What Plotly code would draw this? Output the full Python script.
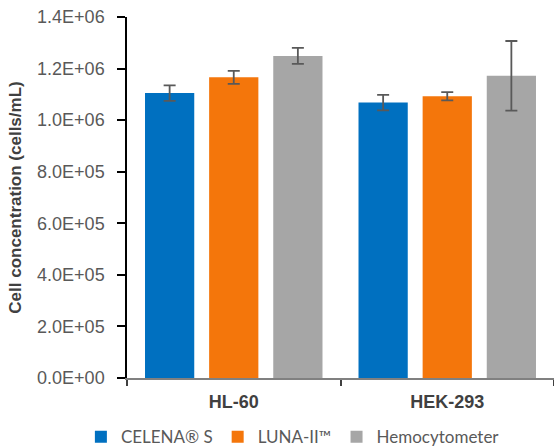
import plotly.graph_objects as go

categories = ["HL-60", "HEK-293"]
series_names = ["CELENA® S", "LUNA-II™", "Hemocytometer"]
celena = [1.105e6, 1.068e6]
celena_err = [3.0e4, 3.0e4]
luna = [1.166e6, 1.093e6]
luna_err = [2.5e4, 1.6e4]
hemo = [1.249e6, 1.172e6]
hemo_err = [3.1e4, 1.35e5]
colors = ["#0070C0", "#F4760B", "#A6A6A6"]
y_ticks = [0, 2e5, 4e5, 6e5, 8e5, 1.0e6, 1.2e6, 1.4e6]
y_tick_labels = ["0.0E+00", "2.0E+05", "4.0E+05", "6.0E+05", "8.0E+05",
                 "1.0E+06", "1.2E+06", "1.4E+06"]

fig = go.Figure()
for name, vals, errs, col in zip(series_names, [celena, luna, hemo],
                                 [celena_err, luna_err, hemo_err], colors):
    fig.add_trace(go.Bar(
        x=categories, y=vals, name=name,
        marker=dict(color=col, line=dict(width=0)),
        error_y=dict(type="data", array=errs, visible=True,
                     color="#595959", thickness=1.8, width=6),
    ))

fig.update_layout(
    width=554, height=446,
    margin=dict(l=127, r=0, t=17, b=68, autoexpand=False),
    paper_bgcolor="white", plot_bgcolor="white",
    barmode="group", bargap=0.099, bargroupgap=0.232,
    font=dict(family="Liberation Sans, Arial, sans-serif", color="#595959"),
    showlegend=True,
    legend=dict(orientation="h", x=-0.108, xanchor="left", y=-0.114, yanchor="top",
                font=dict(family="Lato, sans-serif", size=17, color="#595959"),
                itemwidth=30, traceorder="normal", bgcolor="rgba(0,0,0,0)"),
    xaxis=dict(
        automargin=False,
        showline=True, linecolor="#808080", linewidth=2,
        ticks="outside", tickson="boundaries", ticklen=6, tickcolor="#404040", tickwidth=2,
        tickfont=dict(size=18, color="#404040", family="Liberation Sans, Arial, sans-serif", weight="bold"),
        ticklabelstandoff=6,
        showgrid=False, zeroline=False,
    ),
    yaxis=dict(
        automargin=False,
        range=[0, 1.4e6], tickvals=y_ticks, ticktext=y_tick_labels,
        showline=True, linecolor="black", linewidth=1.5,
        ticks="outside", ticklen=8, tickcolor="black", tickwidth=1.5,
        tickfont=dict(size=18, color="#595959"),
        ticklabelstandoff=9,
        showgrid=False, zeroline=False,
        title=dict(text="Cell concentration (cells/mL)",
                   font=dict(size=17, color="#404040", weight="bold"),
                   standoff=11),
    ),
)

fig.write_html("out.html", config={"displayModeBar": False},
               post_script="document.body.style.margin='0';")
